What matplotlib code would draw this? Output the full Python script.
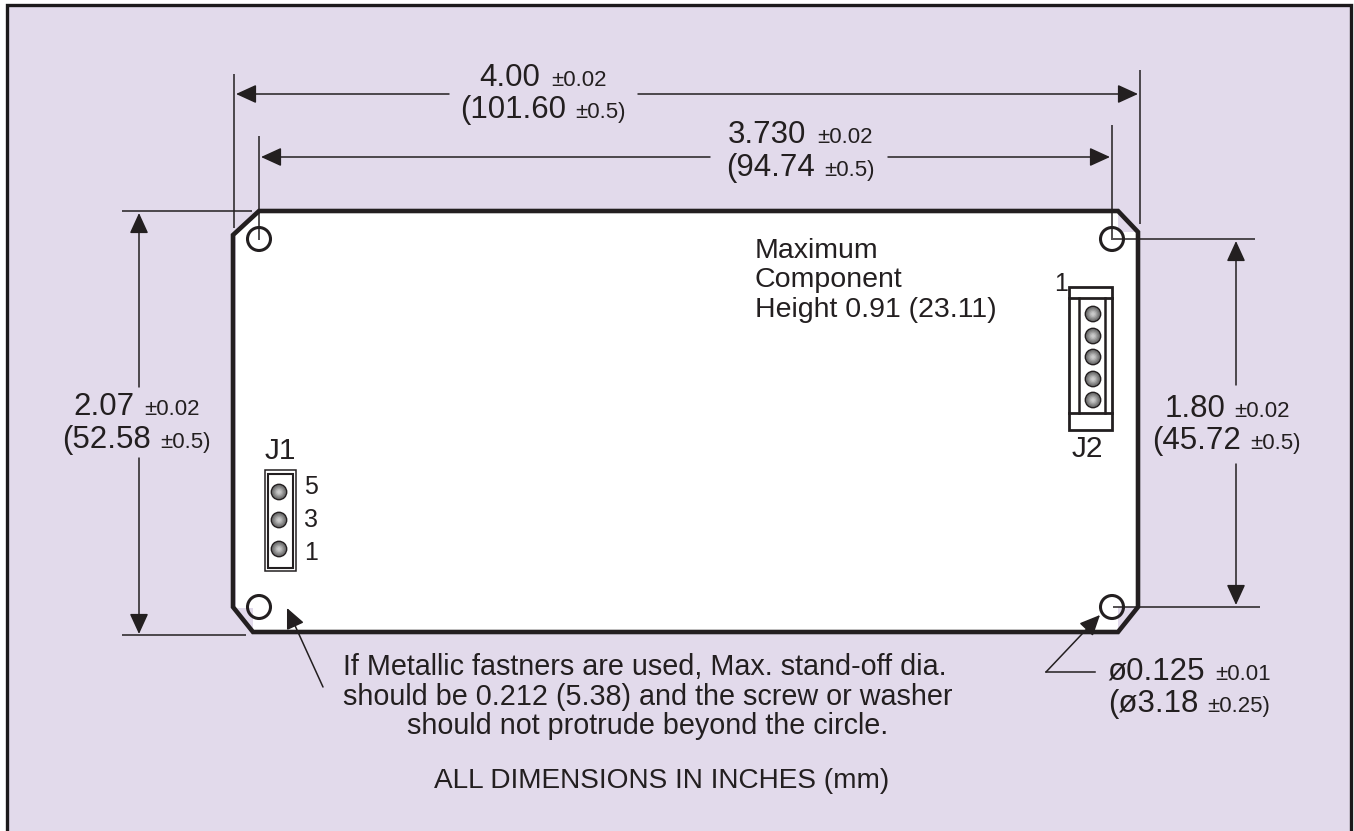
import matplotlib
matplotlib.use("Agg")
import matplotlib.pyplot as plt
from matplotlib.patches import Circle, Polygon, Rectangle

INK = "#231f20"
LAVENDER = "#e2daeb"

# panel frame, open at the bottom edge of the picture
frame_x = [6.5, 6.5, 1350.5, 1350.5]
frame_y = [831, 4.5, 4.5, 831]

# board outline and the white fill inside it (pixel coordinates of the drawing)
board_x = [259, 1118, 1138, 1138, 1118, 253, 233, 233]
board_y = [211, 211, 232, 607, 632, 632, 607, 235]
fill_x = [259, 1118, 1118, 1136, 1136, 1118, 1118, 253, 253, 236, 236]
fill_y = [213, 213, 232, 232, 607, 607, 630, 630, 608, 608, 235]

hole_x = [259, 1112, 259, 1112]
hole_y = [239, 239, 607, 607]

# extension lines
ext_x0 = [234, 259, 1112, 1140, 122, 122, 1113, 1113]
ext_x1 = [234, 259, 1112, 1140, 252, 246, 1255, 1260]
ext_y0 = [74, 136, 125, 70, 211, 635, 239, 607]
ext_y1 = [228, 240, 240, 224, 211, 635, 239, 607]

# dimension lines, each split by its label
hdim_y = [94, 157]
hdim_start = [236, 261]
hdim_gap0 = [449, 710]
hdim_gap1 = [638, 888]
hdim_end = [1138, 1110]

vdim_x = [139, 1236]
vdim_start = [213, 241]
vdim_gap0 = [387, 385]
vdim_gap1 = [458, 464]
vdim_end = [634, 605]

# connector pins
j1_pin_x = [279, 279, 279]
j1_pin_y = [492, 520, 549]
j2_pin_x = [1093, 1093, 1093, 1093, 1093]
j2_pin_y = [314, 336, 357, 379, 400]

# big text then small tolerance: x, baseline y, text, small x, small text
big_labels = [
    (479, 86, "4.00", 551, "±0.02"),
    (460, 118, "(101.60", 575, "±0.5)"),
    (728, 143, "3.730", 817, "±0.02"),
    (726, 176, "(94.74", 824, "±0.5)"),
    (73, 415, "2.07", 144, "±0.02"),
    (62, 448, "(52.58", 160, "±0.5)"),
    (1165, 417, "1.80", 1234, "±0.02"),
    (1152, 449, "(45.72", 1250, "±0.5)"),
    (1107, 680, "ø0.125", 1215, "±0.01"),
    (1108, 712, "(ø3.18", 1207, "±0.25)"),
]

# x, baseline y, text, alignment, size
small_labels = [
    (755, 258, "Maximum", "left", 20.5),
    (755, 287, "Component", "left", 20.5),
    (755, 317, "Height 0.91 (23.11)", "left", 20.5),
    (645, 675, "If Metallic fastners are used, Max. stand-off dia.", "center", 20.7),
    (648, 705, "should be 0.212 (5.38) and the screw or washer", "center", 20.7),
    (648, 734, "should not protrude beyond the circle.", "center", 20.7),
    (662, 788, "ALL DIMENSIONS IN INCHES (mm)", "center", 20.2),
    (280, 459, "J1", "center", 21.5),
    (1087, 457, "J2", "center", 21.5),
    (1061, 291, "1", "center", 18),
    (311, 494, "5", "center", 18),
    (311, 527, "3", "center", 18),
    (311, 560, "1", "center", 18),
]


def arrow(ax, tail, tip):
    ax.annotate(
        "",
        xy=tip,
        xytext=tail,
        arrowprops=dict(
            arrowstyle="-|>,head_length=1.05,head_width=0.48",
            mutation_scale=12,
            shrinkA=0,
            shrinkB=0,
            color=INK,
            lw=1.1,
        ),
    )


def pin(ax, x, y):
    ax.add_patch(Circle((x, y), 8.4, fc=INK, ec="none", zorder=4))
    shades = ["#6f6f6f", "#858585", "#9d9d9d", "#b5b5b5", "#c9c9c9"]
    for radius, shade in zip([7, 5.8, 4.5, 3.2, 1.8], shades):
        ax.add_patch(Circle((x, y), radius, fc=shade, ec="none", zorder=5))


def main():
    plt.rcParams["font.family"] = ["Liberation Sans", "DejaVu Sans"]
    fig = plt.figure(figsize=(13.54, 8.31), dpi=100)
    ax = fig.add_axes([0, 0, 1, 1])
    ax.set_xlim(0, 1354)
    ax.set_ylim(831, 0)
    ax.axis("off")

    ax.add_patch(Polygon(list(zip(frame_x, frame_y)), closed=True, fc=LAVENDER, ec="none", zorder=0))
    ax.plot(frame_x, frame_y, color="#1c1a1b", lw=2.4, zorder=8, solid_joinstyle="miter")

    ax.add_patch(Polygon(list(zip(fill_x, fill_y)), closed=True, fc="white", ec="none", zorder=1))
    ax.add_patch(Polygon(list(zip(board_x, board_y)), closed=True, fc="none", ec=INK, lw=3.3, zorder=3))

    for x, y in zip(hole_x, hole_y):
        ax.add_patch(Circle((x, y), 11.5, fc="none", ec=INK, lw=2.2, zorder=3))

    for x0, x1, y0, y1 in zip(ext_x0, ext_x1, ext_y0, ext_y1):
        ax.plot([x0, x1], [y0, y1], color=INK, lw=1.1, zorder=2, solid_capstyle="butt")

    for y, s, g0, g1, e in zip(hdim_y, hdim_start, hdim_gap0, hdim_gap1, hdim_end):
        arrow(ax, (g0, y), (s, y))
        arrow(ax, (g1, y), (e, y))
    for x, s, g0, g1, e in zip(vdim_x, vdim_start, vdim_gap0, vdim_gap1, vdim_end):
        arrow(ax, (x, g0), (x, s))
        arrow(ax, (x, g1), (x, e))

    # leaders to the fastener notes
    arrow(ax, (323, 687), (287, 608))
    arrow(ax, (1046, 672), (1100, 615))
    ax.plot([1046, 1095], [672, 672], color=INK, lw=1.1)

    # J1
    ax.add_patch(Rectangle((264.5, 470), 31.5, 101, fc="none", ec=INK, lw=1.1, zorder=3))
    ax.add_patch(Rectangle((268, 473.5), 25, 94, fc="none", ec=INK, lw=1.5, zorder=3))
    for x, y in zip(j1_pin_x, j1_pin_y):
        pin(ax, x, y)

    # J2
    ax.add_patch(Rectangle((1069, 287), 43, 143, fc="white", ec=INK, lw=2, zorder=3))
    ax.plot([1069, 1112], [298, 298], color=INK, lw=2, zorder=3)
    ax.plot([1069, 1112], [413, 413], color=INK, lw=2, zorder=3)
    ax.plot([1079, 1079], [298, 413], color=INK, lw=1.8, zorder=3)
    ax.plot([1105, 1105], [298, 413], color=INK, lw=1.8, zorder=3)
    for x, y in zip(j2_pin_x, j2_pin_y):
        pin(ax, x, y)

    for x, y, big, small_x, small in big_labels:
        ax.text(x, y, big, fontsize=22.5, color=INK, ha="left", va="baseline", zorder=6)
        ax.text(small_x, y, small, fontsize=16, color=INK, ha="left", va="baseline", zorder=6)
    for x, y, label, align, size in small_labels:
        ax.text(x, y, label, fontsize=size, color=INK, ha=align, va="baseline", zorder=6)

    fig.savefig("out.png", dpi=100)


if __name__ == "__main__":
    main()
